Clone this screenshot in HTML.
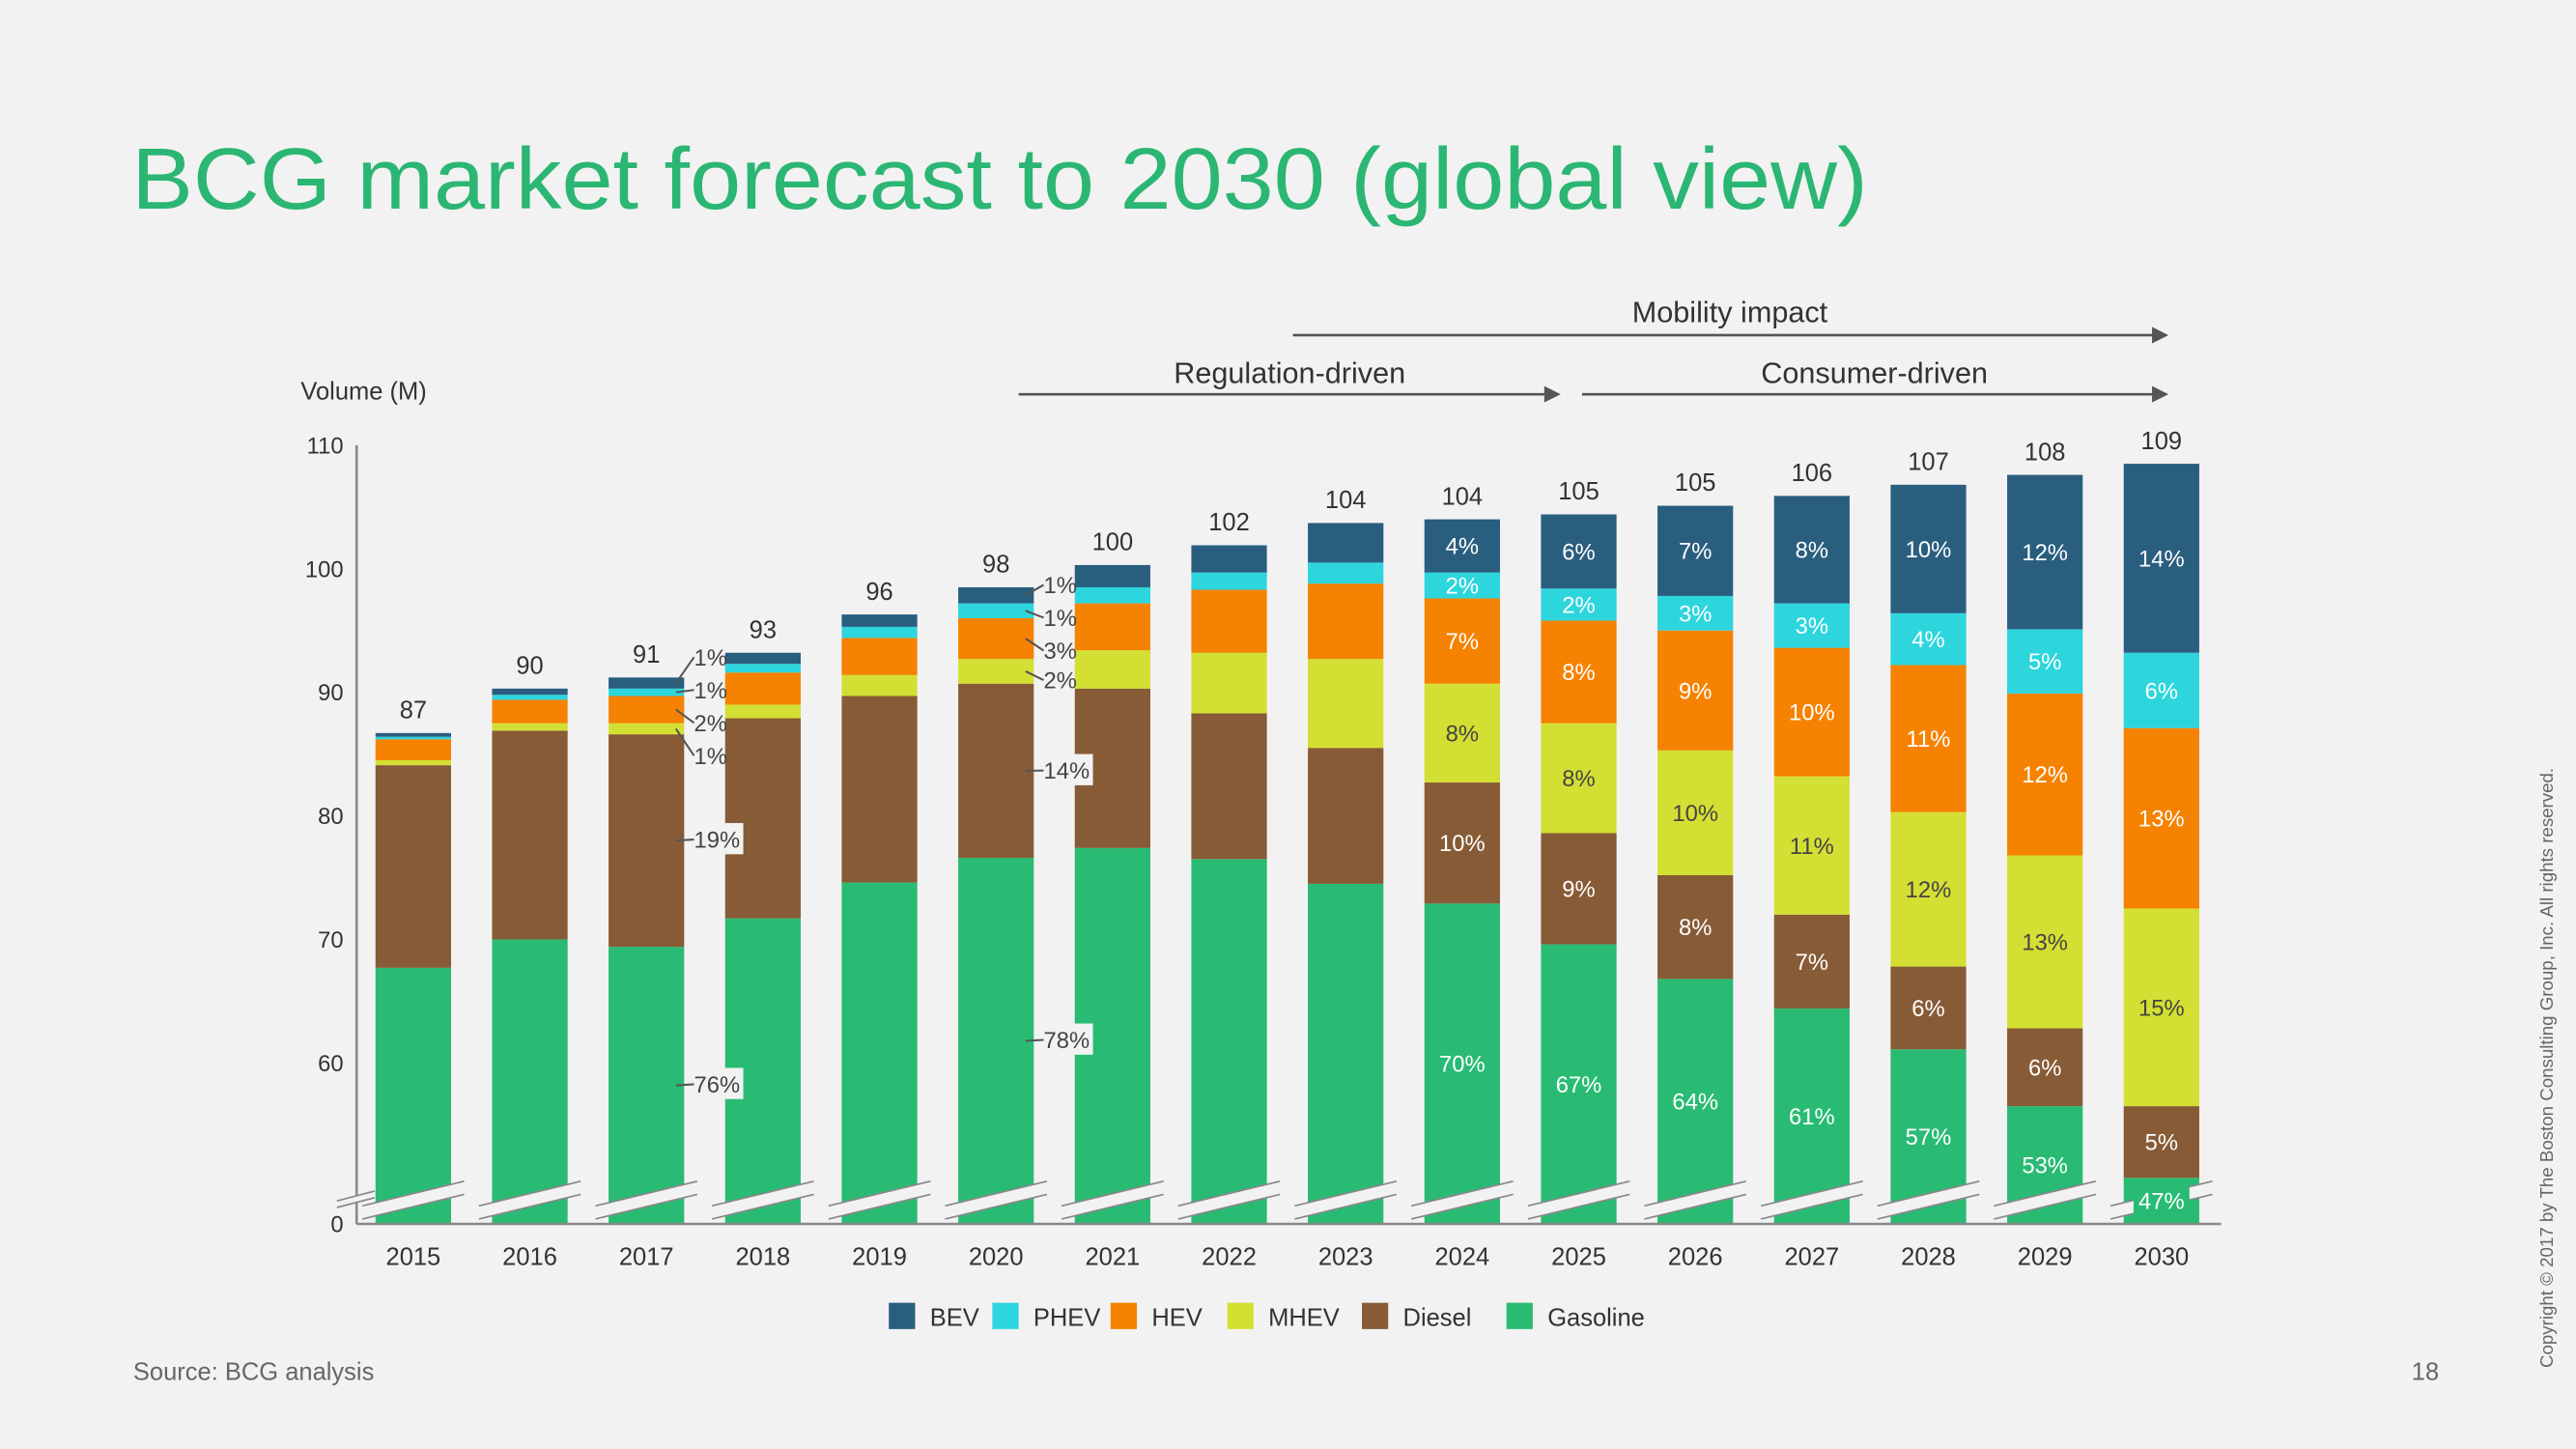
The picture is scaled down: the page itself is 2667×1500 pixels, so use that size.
<!DOCTYPE html>
<html><head><meta charset="utf-8"><style>
html,body{margin:0;padding:0;background:#f2f2f2;}
svg{display:block;font-family:"Liberation Sans","DejaVu Sans",sans-serif;}
</style></head><body>
<svg id="chart" width="2667" height="1500" viewBox="0 0 1568 882" xmlns="http://www.w3.org/2000/svg">
<rect width="1568" height="882" fill="#f2f2f2"/>
<text x="80" y="127" font-size="53" fill="#2bb673" textLength="1057" lengthAdjust="spacingAndGlyphs">BCG market forecast to 2030 (global view)</text>
<text x="183" y="243" font-size="15" fill="#333">Volume (M)</text>
<g fill="#333" font-size="18" text-anchor="middle">
<text x="1053" y="196">Mobility impact</text>
<line x1="787" y1="204" x2="1312" y2="204" stroke="#555" stroke-width="1.5"/><polygon points="1320,204 1310,199 1310,209" fill="#555"/>
<text x="785" y="233">Regulation-driven</text>
<line x1="620" y1="240" x2="942" y2="240" stroke="#555" stroke-width="1.5"/><polygon points="950,240 940,235 940,245" fill="#555"/>
<text x="1141" y="233">Consumer-driven</text>
<line x1="963" y1="240" x2="1312" y2="240" stroke="#555" stroke-width="1.5"/><polygon points="1320,240 1310,235 1310,245" fill="#555"/>
</g>
<g id="plot"></g>
<text x="81" y="840" font-size="15" fill="#666">Source: BCG analysis</text>
<text x="1468" y="840" font-size="15" fill="#666">18</text>
<text transform="translate(1554,650) rotate(-90)" text-anchor="middle" font-size="11" fill="#666">Copyright © 2017 by The Boston Consulting Group, Inc. All rights reserved.</text>
</svg>
<script>
const years = [2015,2016,2017,2018,2019,2020,2021,2022,2023,2024,2025,2026,2027,2028,2029,2030];
const totals = [87,90,91,93,96,98,100,102,104,104,105,105,106,107,108,109];
const gasoline = [67.7,70.0,69.4,71.7,74.6,76.6,77.4,76.5,74.5,72.9,69.6,66.8,64.4,61.1,56.5,50.7];
const diesel = [16.4,16.9,17.2,16.2,15.1,14.1,12.9,11.8,11.0,9.8,9.0,8.4,7.6,6.7,6.3,5.8];
const mhev = [0.4,0.6,0.9,1.1,1.7,2.0,3.1,4.9,7.2,8.0,8.9,10.1,11.2,12.5,14.0,16.0];
const hev = [1.7,1.9,2.2,2.6,3.0,3.3,3.8,5.1,6.1,6.9,8.3,9.7,10.4,11.9,13.1,14.6];
const phev = [0.2,0.4,0.6,0.7,0.9,1.2,1.3,1.4,1.7,2.1,2.6,2.8,3.6,4.2,5.2,6.1];
const bev = [0.3,0.5,0.9,0.9,1.0,1.3,1.8,2.2,3.2,4.3,6.0,7.3,8.7,10.4,12.5,15.3];
const labelYears = [2024,2025,2026,2027,2028,2029,2030];
const gasPct = [70,67,64,61,57,53,47];
const dieselPct = [10,9,8,7,6,6,5];
const mhevPct = [8,8,10,11,12,13,15];
const hevPct = [7,8,9,10,11,12,13];
const phevPct = [2,2,3,3,4,5,6];
const bevPct = [4,6,7,8,10,12,14];
const callout2017 = [76,19,1,2,1,1];
const callout2020 = [78,14,2,3,1,1];
const yTicks = [60,70,80,90,100,110];
const seriesNames = ['Gasoline','Diesel','MHEV','HEV','PHEV','BEV'];
const series = [gasoline,diesel,mhev,hev,phev,bev];
const colors = ['#29bb73','#875b36','#d4df33','#f58200','#2dd5dd','#2a5e7f'];
const textCol = ['#fff','#fff','#444','#fff','#fff','#fff'];

const NS='http://www.w3.org/2000/svg';
const g=document.getElementById('plot');
function y(v){return v<=0?745:647-(v-60)*7.52;}
function x(i){return 251.5+i*70.95;}
const BW=46;
function mk(tag,attrs,parent){const e=document.createElementNS(NS,tag);for(const k in attrs)e.setAttribute(k,attrs[k]);(parent||g).appendChild(e);return e;}
function txt(s,attrs,parent){const e=mk('text',attrs,parent);e.textContent=s;return e;}

const ax=mk('line',{x1:217,y1:271,x2:217,y2:745,stroke:'#888','stroke-width':1.5});


yTicks.forEach(t=>{
  const e=txt(t,{x:209,y:y(t)+5,'font-size':14,fill:'#333','text-anchor':'end'});
  
  
});
const z=txt('0',{x:209,y:750,'font-size':14,fill:'#333','text-anchor':'end'});



years.forEach((yr,i)=>{
  const bg=mk('g',{});
  
  
  let cum=0;
  series.forEach((s,k)=>{
    const y0=y(cum); cum+=s[i]; const y1=y(cum);
    const r=mk('rect',{x:x(i)-BW/2,y:y1,width:BW,height:Math.max(0,y0-y1),fill:colors[k]},bg);
    
    
  });
  const tl=txt(totals[i],{x:x(i),y:y(cum)-9,'font-size':15,fill:'#333','text-anchor':'middle'});
  
  
  const xl=txt(yr,{x:x(i),y:770,'font-size':15,fill:'#333','text-anchor':'middle'});
  
  
  const bx=x(i)-BW/2-8, ex=x(i)+BW/2+8;
  const br=mk('polygon',{points:`${bx},734 ${ex},719 ${ex},727 ${bx},742`,fill:'#f2f2f2'},bg);
  
  
  mk('line',{x1:bx,y1:734,x2:ex,y2:719,stroke:'#888','stroke-width':1},bg);
  mk('line',{x1:bx,y1:742,x2:ex,y2:727,stroke:'#888','stroke-width':1},bg);
});
mk('polygon',{points:'205,731 228,725 228,729 205,735',fill:'#f2f2f2'});
mk('line',{x1:205,y1:731,x2:228,y2:725,stroke:'#888','stroke-width':1});
mk('line',{x1:205,y1:735,x2:228,y2:729,stroke:'#888','stroke-width':1});
const xa=mk('line',{x1:217,y1:745,x2:1352,y2:745,stroke:'#888','stroke-width':1.5});



const pctSeries=[gasPct,dieselPct,mhevPct,hevPct,phevPct,bevPct];
labelYears.forEach((yr,j)=>{
  const i=years.indexOf(yr); let cum=0;
  series.forEach((s,k)=>{
    const y0=y(cum); cum+=s[i]; const y1=y(cum);
    const cy=(y0+y1)/2;
    if(k===0 && y0-y1<40) mk('rect',{x:x(i)-17,y:cy-9,width:34,height:17,fill:colors[0]});
    const e=txt(pctSeries[k][j]+'%',{x:x(i),y:cy+5,'font-size':14,fill:textCol[k],'text-anchor':'middle'});
    
    
  });
});
function callouts(yr,vals,tys){
  const i=years.indexOf(yr); let cum=0; const xr=x(i)+BW/2;
  series.forEach((s,k)=>{
    const y0=y(cum); cum+=s[i]; const y1=y(cum); const cy=(y0+y1)/2;
    const ty=tys[k];
    mk('line',{x1:xr-5,y1:cy,x2:xr+6,y2:ty,stroke:'#555','stroke-width':1.2});
    if(k<2) mk('rect',{x:xr+6,y:ty-10,width:30,height:19,fill:'#f2f2f2'});
    const e=txt(vals[k]+'%',{x:xr+6,y:ty+5,'font-size':14,fill:'#444'});
    
    
  });
}
callouts(2017,callout2017,[660,511,460,440,420,400]);
callouts(2020,callout2020,[633,469,414,396,376,356]);

const lg=mk('g',{});


const order=[5,4,3,2,1,0]; const lx=[541,604,676,747,829,917];
order.forEach((k,j)=>{
  const it=mk('g',{},lg);
  
  
  mk('rect',{x:lx[j],y:793,width:16,height:16,fill:colors[k]},it);
  txt(seriesNames[k],{x:lx[j]+25,y:807,'font-size':15,fill:'#333'},it);
});
</script>
</body></html>
